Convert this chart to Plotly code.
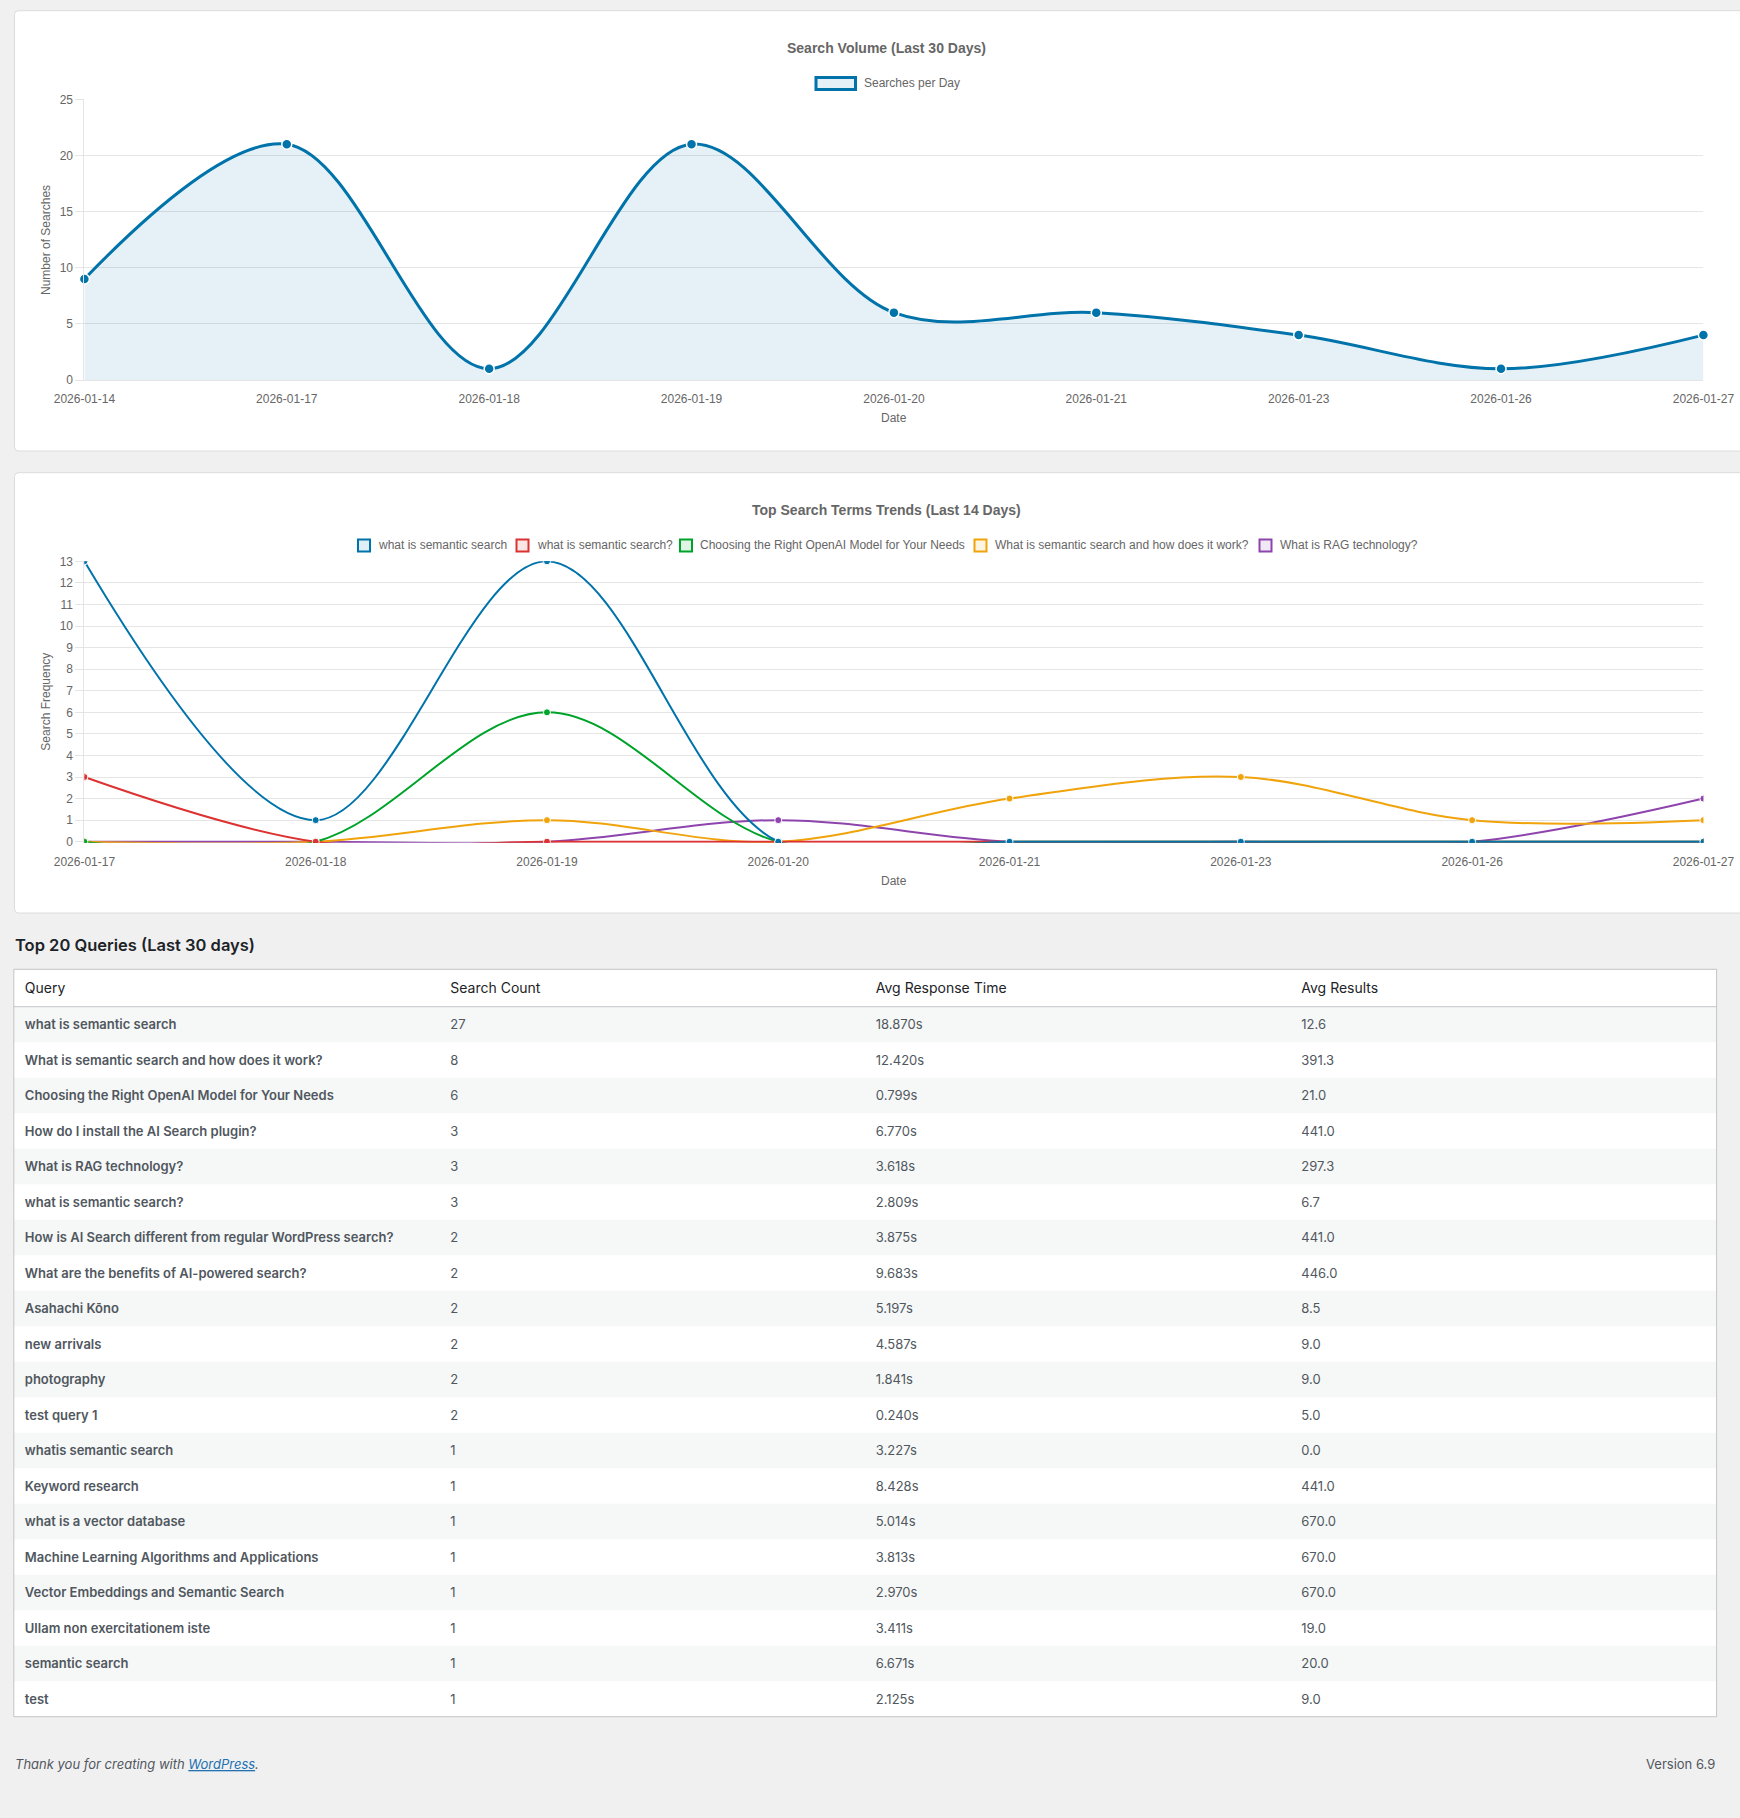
import plotly.graph_objects as go

# ---------------- data ----------------
volume_dates = ["2026-01-14", "2026-01-17", "2026-01-18", "2026-01-19", "2026-01-20",
                "2026-01-21", "2026-01-23", "2026-01-26", "2026-01-27"]
volume_counts = [9, 21, 1, 21, 6, 6, 4, 1, 4]

trend_dates = ["2026-01-17", "2026-01-18", "2026-01-19", "2026-01-20",
               "2026-01-21", "2026-01-23", "2026-01-26", "2026-01-27"]
trend_names = ["what is semantic search", "what is semantic search?",
               "Choosing the Right OpenAI Model for Your Needs",
               "What is semantic search and how does it work?", "What is RAG technology?"]
trend_semantic = [13, 1, 13, 0, 0, 0, 0, 0]
trend_semantic_q = [3, 0, 0, 0, 0, 0, 0, 0]
trend_openai = [0, 0, 6, 0, 0, 0, 0, 0]
trend_how = [0, 0, 1, 0, 2, 3, 1, 1]
trend_rag = [0, 0, 0, 1, 0, 0, 0, 2]
trend_values = [trend_semantic, trend_semantic_q, trend_openai, trend_how, trend_rag]

table_headers = ["Query", "Search Count", "Avg Response Time", "Avg Results"]
table_queries = [
    "what is semantic search", "What is semantic search and how does it work?",
    "Choosing the Right OpenAI Model for Your Needs", "How do I install the AI Search plugin?",
    "What is RAG technology?", "what is semantic search?",
    "How is AI Search different from regular WordPress search?",
    "What are the benefits of AI-powered search?", "Asahachi Kōno", "new arrivals",
    "photography", "test query 1", "whatis semantic search", "Keyword research",
    "what is a vector database", "Machine Learning Algorithms and Applications",
    "Vector Embeddings and Semantic Search", "Ullam non exercitationem iste",
    "semantic search", "test"]
table_counts = [27, 8, 6, 3, 3, 3, 2, 2, 2, 2, 2, 2, 1, 1, 1, 1, 1, 1, 1, 1]
table_times = [18.870, 12.420, 0.799, 6.770, 3.618, 2.809, 3.875, 9.683, 5.197, 4.587,
               1.841, 0.240, 3.227, 8.428, 5.014, 3.813, 2.970, 3.411, 6.671, 2.125]
table_results = [12.6, 391.3, 21.0, 441.0, 297.3, 6.7, 441.0, 446.0, 8.5, 9.0,
                 9.0, 5.0, 0.0, 441.0, 670.0, 670.0, 670.0, 19.0, 20.0, 9.0]

# ---------------- styling ----------------
W, H = 1740, 1818
def px(x): return x / W
def py(y): return 1 - y / H

CHART_FONT = "Liberation Sans, Arial, Helvetica, sans-serif"
UI_FONT = "Inter, Roboto, sans-serif"
GRID = "#e5e5e5"
TXT = "#666666"
BLUE = "#0073aa"
trend_colors = ["#0073aa", "#dc3232", "#00a32a", "#f0a30a", "#8e44ad"]
trend_fills = ["rgba(0,115,170,0.12)", "rgba(220,50,50,0.12)", "rgba(0,163,42,0.12)",
               "rgba(240,163,10,0.12)", "rgba(142,68,173,0.12)"]

PLOT_L, PLOT_R = 84.4, 1703.4

# table geometry (pixels)
T_LEFT, T_RIGHT, T_TOP = 13.8, 1716.6, 969.3
HDR_H, ROW_H = 37.4, 35.5
TEXT_SHIFT = 5
TEXT_XSHIFT = 3
T_BOTTOM = T_TOP + HDR_H + ROW_H * len(table_queries)

fig = go.Figure()

# chart 1
fig.add_trace(go.Scatter(
    x=volume_dates, y=volume_counts, mode="lines+markers", name="Searches per Day",
    line=dict(color=BLUE, width=3, shape="spline", smoothing=1.0),
    fill="tozeroy", fillcolor="rgba(0,115,170,0.1)",
    marker=dict(size=10, color=BLUE, line=dict(color="white", width=1.5)),
    xaxis="x", yaxis="y", showlegend=False, cliponaxis=False))

# chart 2 (first dataset on top -> add in reverse)
for i in reversed(range(len(trend_names))):
    fig.add_trace(go.Scatter(
        x=trend_dates, y=trend_values[i], mode="lines+markers", name=trend_names[i],
        line=dict(color=trend_colors[i], width=2, shape="spline", smoothing=1.0),
        marker=dict(size=7, color=trend_colors[i], line=dict(color="white", width=1)),
        xaxis="x2", yaxis="y2", showlegend=False))

# table
CLEAR = "rgba(0,0,0,0)"
fig.add_trace(go.Table(
    domain=dict(x=[px(T_LEFT + TEXT_XSHIFT), px(T_RIGHT + TEXT_XSHIFT)],
                y=[py(T_BOTTOM + TEXT_SHIFT + 4), py(T_TOP + TEXT_SHIFT)]),
    columnwidth=[1, 1, 1, 1],
    header=dict(values=table_headers, fill_color=CLEAR,
                line=dict(color=CLEAR, width=0), align="left", height=HDR_H,
                font=dict(family=UI_FONT, size=14, color="#1d2327")),
    cells=dict(values=[table_queries,
                       [str(c) for c in table_counts],
                       ["%.3fs" % t for t in table_times],
                       ["%.1f" % r for r in table_results]],
               fill_color=CLEAR, line=dict(color=CLEAR, width=0),
               align="left", height=ROW_H,
               font=dict(family=UI_FONT, size=13, color="#50575e",
                         weight=[600, 400, 400, 400]))))

axis_common = dict(showgrid=True, gridcolor=GRID, gridwidth=1,
                   tickfont=dict(family=CHART_FONT, size=12, color=TXT),
                   zeroline=False, automargin=False)

fig.update_layout(
    width=W, height=H, autosize=False,
    margin=dict(l=0, r=0, t=0, b=0, pad=0, autoexpand=False),
    paper_bgcolor="#f0f0f1", plot_bgcolor="white",
    showlegend=False,
    xaxis=dict(domain=[px(PLOT_L), px(PLOT_R)], anchor="y", type="category",
               range=[0, len(volume_dates) - 1], showgrid=False, showline=True,
               linecolor=GRID, ticks="outside", ticklen=8, tickcolor="rgba(0,0,0,0)",
               automargin=False,
               tickfont=dict(family=CHART_FONT, size=12, color=TXT)),
    yaxis=dict(domain=[py(380), py(99.3)], anchor="x", range=[0, 25], dtick=5,
               showline=True, linecolor=GRID, ticks="outside", ticklen=8, tickcolor=GRID,
               **axis_common),
    xaxis2=dict(domain=[px(PLOT_L), px(PLOT_R)], anchor="y2", type="category",
                range=[0, len(trend_dates) - 1], showgrid=False, showline=False,
                ticks="outside", ticklen=8, tickcolor="rgba(0,0,0,0)", automargin=False,
                tickfont=dict(family=CHART_FONT, size=12, color=TXT)),
    yaxis2=dict(domain=[py(842.8), py(561.3)], anchor="x2", range=[-0.05, 13], dtick=1,
                showline=True, linecolor=GRID, ticks="outside", ticklen=8, tickcolor=GRID,
                **axis_common),
)

# ---------------- cards ----------------
def card_path(x0, y0, x1, y1, r=4):
    pts = [
        f"M {px(x0 + r)},{py(y0)}", f"L {px(x1)},{py(y0)}", f"L {px(x1)},{py(y1)}",
        f"L {px(x0 + r)},{py(y1)}", f"Q {px(x0)},{py(y1)} {px(x0)},{py(y1 - r)}",
        f"L {px(x0)},{py(y0 + r)}", f"Q {px(x0)},{py(y0)} {px(x0 + r)},{py(y0)}", "Z"]
    return " ".join(pts)

shapes = []
for (y0, y1) in [(10.7, 451), (472.7, 913)]:
    shapes.append(dict(type="path", xref="paper", yref="paper", layer="below",
                       path=card_path(14.5, y0, 1765, y1),
                       fillcolor="white", line=dict(color="#dcdcde", width=1)))

# legend boxes
shapes.append(dict(type="rect", xref="paper", yref="paper",
                   x0=px(816), x1=px(855.5), y0=py(89.5), y1=py(77.5),
                   fillcolor="rgba(0,115,170,0.1)", line=dict(color=BLUE, width=3)))
legend2_x = [357, 515.5, 679, 973.5, 1258.5]
for i, lx in enumerate(legend2_x):
    shapes.append(dict(type="rect", xref="paper", yref="paper",
                       x0=px(lx + 1), x1=px(lx + 13), y0=py(551.5), y1=py(539.5),
                       fillcolor=trend_fills[i], line=dict(color=trend_colors[i], width=2)))

# table background, stripes and borders
shapes.append(dict(type="rect", xref="paper", yref="paper", layer="below",
                   x0=px(T_LEFT), x1=px(T_RIGHT), y0=py(T_BOTTOM), y1=py(T_TOP),
                   fillcolor="white", line=dict(width=0)))
for i in range(0, len(table_queries), 2):
    r0 = T_TOP + HDR_H + i * ROW_H
    shapes.append(dict(type="rect", xref="paper", yref="paper", layer="below",
                       x0=px(T_LEFT), x1=px(T_RIGHT), y0=py(r0 + ROW_H), y1=py(r0),
                       fillcolor="#f6f7f7", line=dict(width=0)))
shapes.append(dict(type="rect", xref="paper", yref="paper",
                   x0=px(T_LEFT), x1=px(T_RIGHT), y0=py(T_BOTTOM), y1=py(T_TOP),
                   line=dict(color="#c3c4c7", width=1), fillcolor=CLEAR))
shapes.append(dict(type="line", xref="paper", yref="paper",
                   x0=px(T_LEFT), x1=px(T_RIGHT), y0=py(T_TOP + HDR_H), y1=py(T_TOP + HDR_H),
                   line=dict(color="#c3c4c7", width=1)))

# ---------------- text ----------------
def ann(x, y, text, size=12, color=TXT, xanchor="center", family=CHART_FONT, angle=0,
        weight=None):
    f = dict(family=family, size=size, color=color)
    if weight:
        f["weight"] = weight
    return dict(x=px(x), y=py(y), xref="paper", yref="paper", text=text,
                showarrow=False, xanchor=xanchor, yanchor="middle", textangle=angle,
                font=f)

annotations = [
    ann(886, 48, "<b>Search Volume (Last 30 Days)</b>", size=14),
    ann(862, 83.5, "Searches per Day", xanchor="left"),
    ann(46, 240, "Number of Searches", angle=-90),
    ann(893.7, 418, "Date"),
    ann(886.3, 510, "<b>Top Search Terms Trends (Last 14 Days)</b>", size=14),
    ann(46, 701.7, "Search Frequency", angle=-90),
    ann(893.7, 880.7, "Date"),
    ann(13, 945, "Top 20 Queries (Last 30 days)", size=16.5, color="#1d2327",
        xanchor="left", family=UI_FONT, weight=600),
    ann(12.5, 1764, "<i>Thank you for creating with <span style='color:#2271b1'><u>WordPress</u></span>.</i>",
        size=13, color="#50575e", xanchor="left", family=UI_FONT),
    ann(1716.6, 1764, "Version 6.9", size=13, color="#50575e", xanchor="right", family=UI_FONT),
]
for i, lx in enumerate(legend2_x):
    annotations.append(ann(lx + 19, 545, trend_names[i], xanchor="left"))

fig.update_layout(shapes=shapes, annotations=annotations)

fig.write_html("out.html")
